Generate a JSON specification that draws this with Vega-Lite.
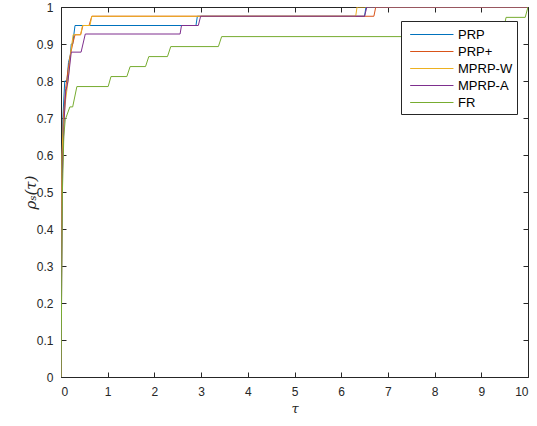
{
  "$schema": "https://vega.github.io/schema/vega-lite/v6.json",
  "autosize": {"type": "none"},
  "padding": {"left": 61, "top": 7, "right": 9, "bottom": 49},
  "width": 467,
  "height": 370,
  "background": "white",
  "config": {
    "view": {"stroke": "#262626", "strokeWidth": 1},
    "font": "Liberation Sans",
    "axis": {
      "grid": false,
      "domain": false,
      "tickColor": "#262626",
      "tickSize": -5,
      "tickWidth": 1,
      "labelColor": "#262626",
      "labelFont": "Liberation Sans",
      "labelFontSize": 12,
      "titleColor": "#262626",
      "titleFontWeight": "normal"
    }
  },
  "data": {
    "values": [
      {"solver": "PRP", "tau": 0, "rho": 0},
      {"solver": "PRP", "tau": 0.02, "rho": 0.55},
      {"solver": "PRP", "tau": 0.04, "rho": 0.70},
      {"solver": "PRP", "tau": 0.08, "rho": 0.80},
      {"solver": "PRP", "tau": 0.13, "rho": 0.80},
      {"solver": "PRP", "tau": 0.16, "rho": 0.85},
      {"solver": "PRP", "tau": 0.20, "rho": 0.87},
      {"solver": "PRP", "tau": 0.22, "rho": 0.90},
      {"solver": "PRP", "tau": 0.25, "rho": 0.90},
      {"solver": "PRP", "tau": 0.30, "rho": 0.95},
      {"solver": "PRP", "tau": 2.89, "rho": 0.95},
      {"solver": "PRP", "tau": 2.92, "rho": 0.975},
      {"solver": "PRP", "tau": 6.50, "rho": 0.975},
      {"solver": "PRP", "tau": 6.53, "rho": 1},
      {"solver": "PRP", "tau": 10, "rho": 1},

      {"solver": "PRP+", "tau": 0, "rho": 0},
      {"solver": "PRP+", "tau": 0.02, "rho": 0.5},
      {"solver": "PRP+", "tau": 0.05, "rho": 0.70},
      {"solver": "PRP+", "tau": 0.10, "rho": 0.78},
      {"solver": "PRP+", "tau": 0.15, "rho": 0.83},
      {"solver": "PRP+", "tau": 0.20, "rho": 0.87},
      {"solver": "PRP+", "tau": 0.25, "rho": 0.90},
      {"solver": "PRP+", "tau": 0.30, "rho": 0.925},
      {"solver": "PRP+", "tau": 0.42, "rho": 0.925},
      {"solver": "PRP+", "tau": 0.47, "rho": 0.95},
      {"solver": "PRP+", "tau": 0.60, "rho": 0.95},
      {"solver": "PRP+", "tau": 0.66, "rho": 0.975},
      {"solver": "PRP+", "tau": 6.70, "rho": 0.975},
      {"solver": "PRP+", "tau": 6.74, "rho": 1},
      {"solver": "PRP+", "tau": 10, "rho": 1},

      {"solver": "MPRP-W", "tau": 0, "rho": 0},
      {"solver": "MPRP-W", "tau": 0.02, "rho": 0.6},
      {"solver": "MPRP-W", "tau": 0.05, "rho": 0.68},
      {"solver": "MPRP-W", "tau": 0.10, "rho": 0.75},
      {"solver": "MPRP-W", "tau": 0.15, "rho": 0.80},
      {"solver": "MPRP-W", "tau": 0.20, "rho": 0.87},
      {"solver": "MPRP-W", "tau": 0.26, "rho": 0.925},
      {"solver": "MPRP-W", "tau": 0.42, "rho": 0.925},
      {"solver": "MPRP-W", "tau": 0.46, "rho": 0.95},
      {"solver": "MPRP-W", "tau": 0.62, "rho": 0.95},
      {"solver": "MPRP-W", "tau": 0.66, "rho": 0.975},
      {"solver": "MPRP-W", "tau": 6.31, "rho": 0.975},
      {"solver": "MPRP-W", "tau": 6.34, "rho": 1},
      {"solver": "MPRP-W", "tau": 10, "rho": 1},

      {"solver": "MPRP-A", "tau": 0, "rho": 0},
      {"solver": "MPRP-A", "tau": 0.03, "rho": 0.55},
      {"solver": "MPRP-A", "tau": 0.07, "rho": 0.70},
      {"solver": "MPRP-A", "tau": 0.10, "rho": 0.77},
      {"solver": "MPRP-A", "tau": 0.15, "rho": 0.80},
      {"solver": "MPRP-A", "tau": 0.22, "rho": 0.878},
      {"solver": "MPRP-A", "tau": 0.43, "rho": 0.878},
      {"solver": "MPRP-A", "tau": 0.52, "rho": 0.927},
      {"solver": "MPRP-A", "tau": 2.55, "rho": 0.927},
      {"solver": "MPRP-A", "tau": 2.58, "rho": 0.95},
      {"solver": "MPRP-A", "tau": 2.94, "rho": 0.95},
      {"solver": "MPRP-A", "tau": 2.99, "rho": 0.975},
      {"solver": "MPRP-A", "tau": 6.50, "rho": 0.975},
      {"solver": "MPRP-A", "tau": 6.55, "rho": 1},
      {"solver": "MPRP-A", "tau": 10, "rho": 1},

      {"solver": "FR", "tau": 0, "rho": 0},
      {"solver": "FR", "tau": 0.03, "rho": 0.5},
      {"solver": "FR", "tau": 0.06, "rho": 0.65},
      {"solver": "FR", "tau": 0.09, "rho": 0.695},
      {"solver": "FR", "tau": 0.19, "rho": 0.73},
      {"solver": "FR", "tau": 0.25, "rho": 0.73},
      {"solver": "FR", "tau": 0.34, "rho": 0.785},
      {"solver": "FR", "tau": 1.01, "rho": 0.785},
      {"solver": "FR", "tau": 1.07, "rho": 0.812},
      {"solver": "FR", "tau": 1.41, "rho": 0.812},
      {"solver": "FR", "tau": 1.48, "rho": 0.839},
      {"solver": "FR", "tau": 1.81, "rho": 0.839},
      {"solver": "FR", "tau": 1.88, "rho": 0.866},
      {"solver": "FR", "tau": 2.28, "rho": 0.866},
      {"solver": "FR", "tau": 2.35, "rho": 0.893},
      {"solver": "FR", "tau": 3.37, "rho": 0.893},
      {"solver": "FR", "tau": 3.44, "rho": 0.92},
      {"solver": "FR", "tau": 9.45, "rho": 0.92},
      {"solver": "FR", "tau": 9.53, "rho": 0.972},
      {"solver": "FR", "tau": 9.94, "rho": 0.972},
      {"solver": "FR", "tau": 10, "rho": 1}
    ]
  },
  "layer": [
    {
      "mark": {"type": "line", "strokeWidth": 1, "clip": true},
      "encoding": {
        "x": {
          "field": "tau", "type": "quantitative",
          "scale": {"domain": [0, 10], "nice": false, "zero": false},
          "axis": {"orient": "bottom", "values": [0,1,2,3,4,5,6,7,8,9,10], "format": "d", "labelPadding": 14, "title": "τ", "titleFont": "DejaVu Serif", "titleFontStyle": "italic", "titleFontSize": 13, "titlePadding": 5}
        },
        "y": {
          "field": "rho", "type": "quantitative",
          "scale": {"domain": [0, 1], "nice": false},
          "axis": {"orient": "left", "values": [0,0.1,0.2,0.3,0.4,0.5,0.6,0.7,0.8,0.9,1], "format": ".1~f", "labelPadding": 13, "title": "ρₛ(τ)", "titleFont": "DejaVu Serif", "titleFontStyle": "italic", "titleFontSize": 15, "titlePadding": -2}
        },
        "color": {
          "field": "solver", "type": "nominal",
          "scale": {"domain": ["PRP", "PRP+", "MPRP-W", "MPRP-A", "FR"], "range": ["#0072BD", "#D95319", "#EDB120", "#7E2F8E", "#77AC30"]},
          "legend": {
            "title": null,
            "orient": "none",
            "legendX": 340,
            "legendY": 14,
            "symbolType": "M-0.5,0L4.5,0",
            "symbolSize": 300,
            "symbolStrokeWidth": 1,
            "labelFont": "Liberation Sans",
            "labelFontSize": 13,
            "labelColor": "#000000",
            "strokeColor": "#262626",
            "fillColor": "white",
            "padding": 4,
            "rowPadding": 0,
            "labelOffset": 34
          }
        }
      }
    },
    {
      "mark": {"type": "point", "opacity": 0},
      "encoding": {
        "x": {"field": "tau", "type": "quantitative", "axis": {"orient": "top", "values": [0,1,2,3,4,5,6,7,8,9,10], "labels": false, "title": null}},
        "y": {"field": "rho", "type": "quantitative", "axis": {"orient": "right", "values": [0,0.1,0.2,0.3,0.4,0.5,0.6,0.7,0.8,0.9,1], "labels": false, "title": null}}
      }
    }
  ],
  "resolve": {"axis": {"x": "independent", "y": "independent"}}
}
